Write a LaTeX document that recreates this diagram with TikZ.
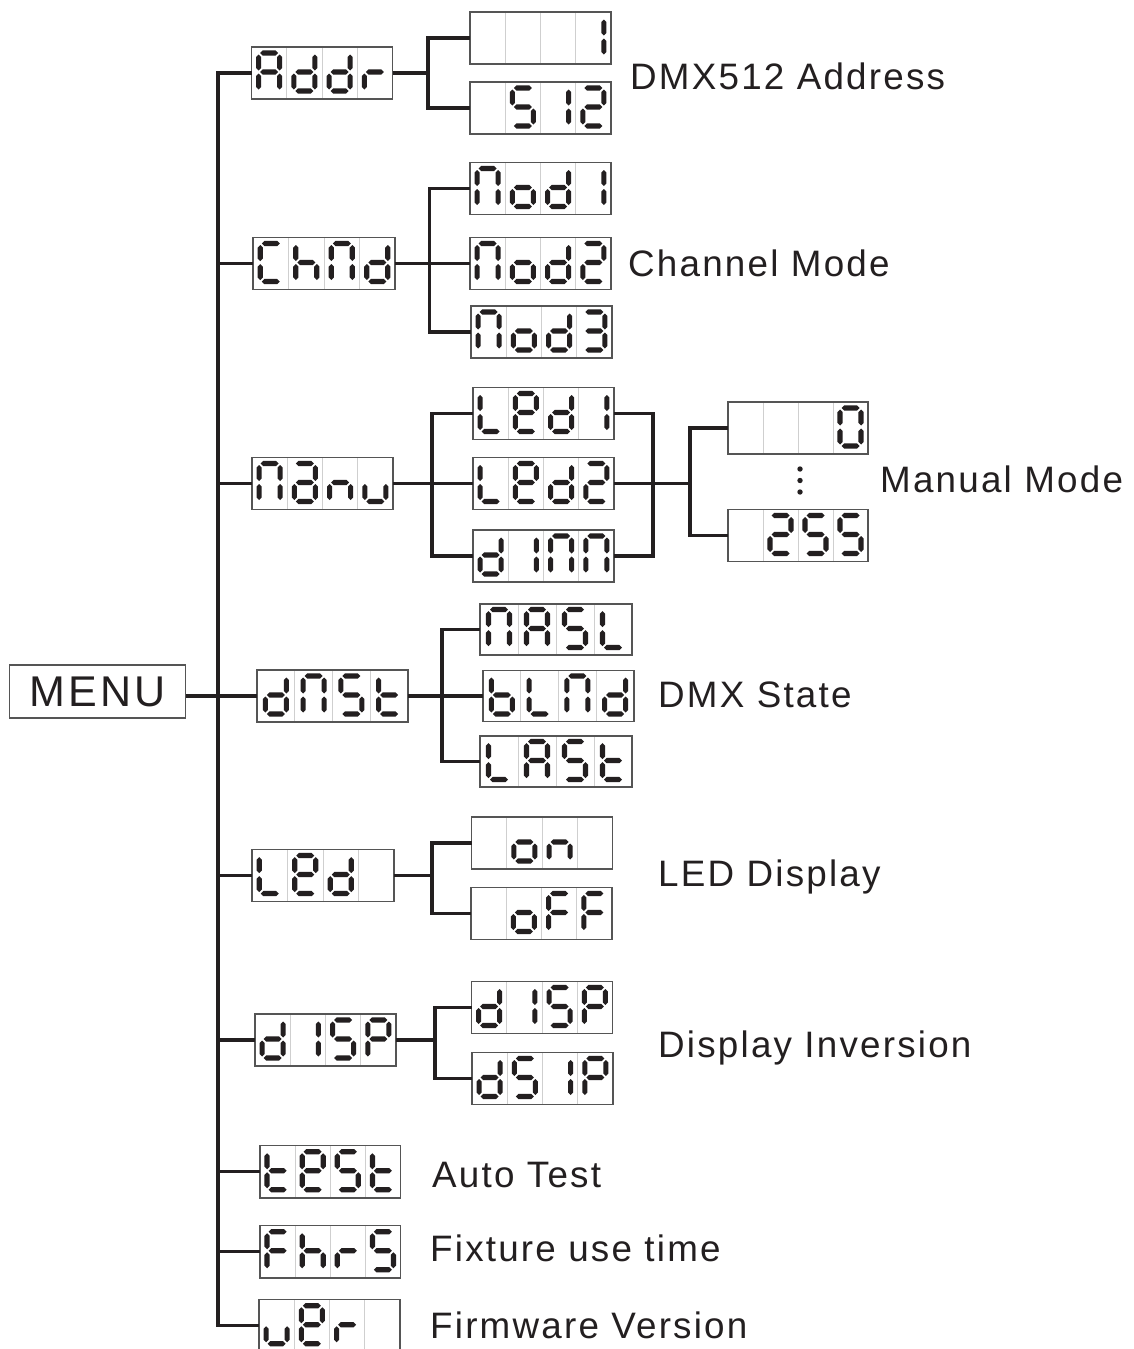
\documentclass[tikz,border=0pt]{standalone}
\usepackage{fontspec}
\setmainfont{Liberation Sans}
\newfontfamily\labfont[LetterSpace=6]{Liberation Sans}
\newfontfamily\menufont[LetterSpace=8]{Liberation Sans}
\definecolor{ink}{HTML}{231F20}
\definecolor{boxgray}{HTML}{555555}
\definecolor{divgray}{HTML}{CFCFCF}
\tikzset{
  conn/.style={draw=ink, line width=3.3pt},
  dispbox/.style={draw=boxgray, line width=1.4pt, rectangle, inner sep=0pt, outer sep=0pt},
  divider/.style={draw=divgray, line width=1pt},
  segfill/.style={fill=ink},
  lab/.style={anchor=base west, inner sep=0pt, text=ink, font=\labfont\fontsize{36.8}{40}\selectfont},
}
% segment shapes (cell-relative, 35 x 52 reference cell)
\newcommand\hsegm[3]{\fill[segfill] (#1,#3) -- (#1+2.6,#3-2.6) -- (#2-2.6,#3-2.6) -- (#2,#3) -- (#2-2.6,#3+2.6) -- (#1+2.6,#3+2.6) -- cycle;}
\newcommand\vsegm[3]{\fill[segfill] (#1,#2) -- (#1+2.6,#2+2.6) -- (#1+2.6,#3-2.6) -- (#1,#3) -- (#1-2.6,#3-2.6) -- (#1-2.6,#2+2.6) -- cycle;}
\newcommand\sega{\hsegm{9}{27}{6}}
\newcommand\segb{\vsegm{28.5}{7.5}{23.5}}
\newcommand\segc{\vsegm{28.5}{26.5}{42.5}}
\newcommand\segd{\hsegm{9}{27}{44}}
\newcommand\sege{\vsegm{7.5}{26.5}{42.5}}
\newcommand\segf{\vsegm{7.5}{7.5}{23.5}}
\newcommand\segg{\hsegm{9}{27}{25}}
% characters
\newcommand\sgA{a,b,c,e,f,g}
\newcommand\sgd{b,c,d,e,g}
\newcommand\sgr{e,g}
\newcommand\sgone{b,c}
\newcommand\sgtwo{a,b,g,e,d}
\newcommand\sgthree{a,b,g,c,d}
\newcommand\sgfive{a,f,g,c,d}
\newcommand\sgzero{a,b,c,d,e,f}
\newcommand\sgC{a,f,e,d}
\newcommand\sgh{f,e,g,c}
\newcommand\sgN{a,b,c,e,f}
\newcommand\sgo{c,d,e,g}
\newcommand\sgL{f,e,d}
\newcommand\sgE{a,b,d,e,f,g}
\newcommand\sga{a,b,c,d,e,g}
\newcommand\sgn{c,e,g}
\newcommand\sgu{c,d,e}
\newcommand\sgt{f,e,g,d}
\newcommand\sgb{f,e,g,c,d}
\newcommand\sgF{a,f,g,e}
\newcommand\sgP{a,b,f,g,e}
\newcommand\sgsp{z}
\newcommand\glyph[3]{%
  \begin{scope}[shift={(#1,#2)}]
    \edef\glist{#3}%
    \foreach \s in \glist {\csname seg\s\endcsname}
  \end{scope}}
\newcommand\lcd[9]{%
  \begin{scope}[shift={(#2,#3)}]
    \foreach \k in {1,2,3} \draw[divider] (\k*#4/4,0) -- (\k*#4/4,#5);
    \node[dispbox, minimum width=#4pt, minimum height=#5pt, anchor=north west] (#1) at (0,0) {};
    \glyph{#4/8-18}{#5/2-26}{#6}
    \glyph{3*#4/8-18}{#5/2-26}{#7}
    \glyph{5*#4/8-18}{#5/2-26}{#8}
    \glyph{7*#4/8-18}{#5/2-26}{#9}
  \end{scope}}
\begin{document}
\begin{tikzpicture}[x=1pt,y=-1pt]
\fill[white] (0,0) rectangle (1134,1349);
\useasboundingbox (0,0) rectangle (1134,1349);

% MENU
\node[draw=boxgray, line width=1.4pt, minimum width=176pt, minimum height=53pt, inner sep=0pt,
      font=\menufont\fontsize{43}{46}\selectfont, text=ink] (menu) at (97.5,691.5) {MENU};

% displays
\lcd{addr}{251.5}{47}{141}{52}{\sgA}{\sgd}{\sgd}{\sgr}
\lcd{one}{470}{12}{141}{52}{\sgsp}{\sgsp}{\sgsp}{\sgone}
\lcd{five}{470}{82}{141}{52}{\sgsp}{\sgfive}{\sgone}{\sgtwo}
\lcd{chnd}{253}{237.5}{142}{52}{\sgC}{\sgh}{\sgN}{\sgd}
\lcd{mod1}{470}{162.5}{141}{52}{\sgN}{\sgo}{\sgd}{\sgone}
\lcd{mod2}{470}{237.5}{141}{52}{\sgN}{\sgo}{\sgd}{\sgtwo}
\lcd{mod3}{471}{306}{141}{52}{\sgN}{\sgo}{\sgd}{\sgthree}
\lcd{manu}{252}{457.5}{141}{52}{\sgN}{\sga}{\sgn}{\sgu}
\lcd{led1}{473}{387.5}{141}{52}{\sgL}{\sgE}{\sgd}{\sgone}
\lcd{led2}{473}{457.5}{141}{52}{\sgL}{\sgE}{\sgd}{\sgtwo}
\lcd{dimm}{473}{530}{141}{52}{\sgd}{\sgone}{\sgN}{\sgN}
\lcd{v0}{728}{402}{140}{52}{\sgsp}{\sgsp}{\sgsp}{\sgzero}
\lcd{v255}{728}{509.5}{140}{52}{\sgsp}{\sgtwo}{\sgfive}{\sgfive}
\lcd{dnst}{257}{670}{151}{52}{\sgd}{\sgN}{\sgfive}{\sgt}
\lcd{nasl}{480}{604}{152}{51}{\sgN}{\sgA}{\sgfive}{\sgL}
\lcd{blnd}{483}{670.5}{151}{51}{\sgb}{\sgL}{\sgN}{\sgd}
\lcd{last}{480}{736}{152}{51}{\sgL}{\sgA}{\sgfive}{\sgt}
\lcd{led}{252}{849.5}{142}{52}{\sgL}{\sgE}{\sgd}{\sgsp}
\lcd{on}{471.5}{817}{141}{52}{\sgsp}{\sgo}{\sgn}{\sgsp}
\lcd{off}{471}{887.5}{141}{52}{\sgsp}{\sgo}{\sgF}{\sgF}
\lcd{disp}{255}{1014}{141}{52}{\sgd}{\sgone}{\sgfive}{\sgP}
\lcd{disp2}{471.5}{981.5}{141}{52}{\sgd}{\sgone}{\sgfive}{\sgP}
\lcd{dsip}{472}{1052.5}{141}{52}{\sgd}{\sgfive}{\sgone}{\sgP}
\lcd{test}{260}{1145.5}{140.5}{52.5}{\sgt}{\sgE}{\sgfive}{\sgt}
\lcd{fhrs}{260}{1225.5}{140.5}{52.5}{\sgF}{\sgh}{\sgr}{\sgfive}
\lcd{ver}{259}{1299.5}{141}{52.5}{\sgu}{\sgE}{\sgr}{\sgsp}

% trunk
\draw[conn] (addr.west) -- ++(-33.5,0) coordinate (trunk) |- (ver.west);
\foreach \n in {chnd,manu,dnst,led,disp,test,fhrs}
  \draw[conn] (trunk |- \n.west) -- (\n.west);
\draw[conn] (menu.east |- dnst.west) -- (trunk |- dnst.west);

% Addr
\draw[conn] (addr.east) -- ++(35.5,0) coordinate (jA);
\draw[conn] (one.west) -| (jA) |- (five.west);
% ChNd
\draw[conn] (chnd.east) -- ++(34.5,0) coordinate (jB);
\draw[conn] (mod1.west) -| (jB) |- (mod3.west);
\draw[conn] (mod2.west) -- (jB |- mod2.west);
% MAnu
\draw[conn] (manu.east) -- ++(39,0) coordinate (jC);
\draw[conn] (led1.west) -| (jC) |- (dimm.west);
\draw[conn] (led2.west) -- (jC |- led2.west);
\path (led2.east) ++(39,0) coordinate (jR);
\draw[conn] (led1.east) -| (jR) |- (dimm.east);
\draw[conn] (led2.east) -- ++(76,0) coordinate (jV);
\draw[conn] (v0.west) -| (jV) |- (v255.west);
\fill[ink] (800,469) circle (2.7) (800,480.5) circle (2.7) (800,492) circle (2.7);
% dNSt
\draw[conn] (dnst.east) -- ++(34,0) coordinate (jD);
\draw[conn] (nasl.west) -| (jD) |- (last.west);
\draw[conn] (blnd.west) -- (jD |- blnd.west);
% LEd
\draw[conn] (led.east) -- ++(38,0) coordinate (jE);
\draw[conn] (on.west) -| (jE) |- (off.west);
% dISP
\draw[conn] (disp.east) -- ++(39,0) coordinate (jF);
\draw[conn] (disp2.west) -| (jF) |- (dsip.west);

% labels
\node[lab] (lAddr) at (630,89.3) {DMX512 Address};
\node[lab] (lCh) at (628,276) {Channel Mode};
\node[lab] (lMan) at (880,492) {Manual Mode};
\node[lab] (lDmx) at (658,707) {DMX State};
\node[lab] (lLed) at (658,886) {LED Display};
\node[lab] (lDisp) at (658,1057) {Display Inversion};
\node[lab] (lTest) at (432,1187.5) {Auto Test};
\node[lab] (lFhrs) at (430,1261) {Fixture use time};
\node[lab] (lVer) at (430,1338.5) {Firmware Version};
\end{tikzpicture}
\end{document}
